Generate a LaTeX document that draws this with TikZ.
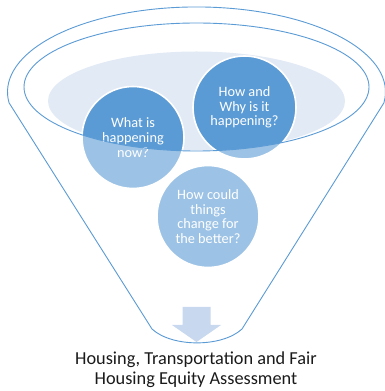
\documentclass[tikz,border=0pt]{standalone}
\usepackage{fontspec}
\setmainfont{Carlito}
\definecolor{funline}{HTML}{5B9BD5}
\definecolor{bubble}{HTML}{5B9BD5}
\definecolor{bowl}{HTML}{E2EAF5}
\definecolor{arrowfill}{HTML}{C8D8EE}
\definecolor{titletext}{HTML}{1A1A1A}
\tikzset{
  bubblenode/.style={circle, fill=bubble, draw=white, line width=1.6pt, minimum size=#1, inner sep=0pt,
     text=white, align=center, font=\fontsize{14.3}{14.6}\selectfont},
  funneledge/.style={draw=funline, line width=0.9pt},
  titlenode/.style={anchor=base, text=titletext, font=\fontsize{18.3}{20}\selectfont, inner sep=0pt}
}
\begin{document}
\begin{tikzpicture}[x=1pt,y=1pt]
\useasboundingbox (0,0) rectangle (385,391);
% bowl (light inner ellipse)
\fill[bowl] (196.5,290) ellipse [x radius=148.5pt, y radius=49.5pt];
% bubbles
\node[bubblenode=102pt] (b1) at (133,253.5) {What is\\happening\\now?};
\node[bubblenode=103pt] (b2) at (244.5,283.5) {How and\\Why is it\\happening?};
\node[bubblenode=102pt] (b3) at (208,174.5) {How could\\things\\change for\\the better?};
% translucent front of funnel
\fill[white, fill opacity=0.4, even odd rule]
  (9.1,288.1) -- (152,62) .. controls (172,43.5) and (222,43.5) .. (242,62)
  -- (383.9,288.1) arc[start angle=-7.4, end angle=187.4, x radius=189pt, y radius=85pt] -- cycle
  (196.5,304) ellipse [x radius=172.5pt, y radius=64pt];
% outlines
\draw[funneledge] (196.5,304) ellipse [x radius=172.5pt, y radius=64pt];
\draw[funneledge, line join=round]
  (9.1,288.1) -- (152,62) .. controls (172,43.5) and (222,43.5) .. (242,62)
  -- (383.9,288.1) arc[start angle=-7.4, end angle=187.4, x radius=189pt, y radius=85pt] -- cycle;
% down arrow
\fill[arrowfill] (182.5,84) -- (210.5,84) -- (210.5,66) -- (221,66) -- (196.5,49)
  -- (172,66) -- (182.5,66) -- cycle;
% title
\node[titlenode] (t1) at (196,26) {Housing, Transportation and Fair};
\node[titlenode] (t2) at (196,6) {Housing Equity Assessment};
\end{tikzpicture}
\end{document}
